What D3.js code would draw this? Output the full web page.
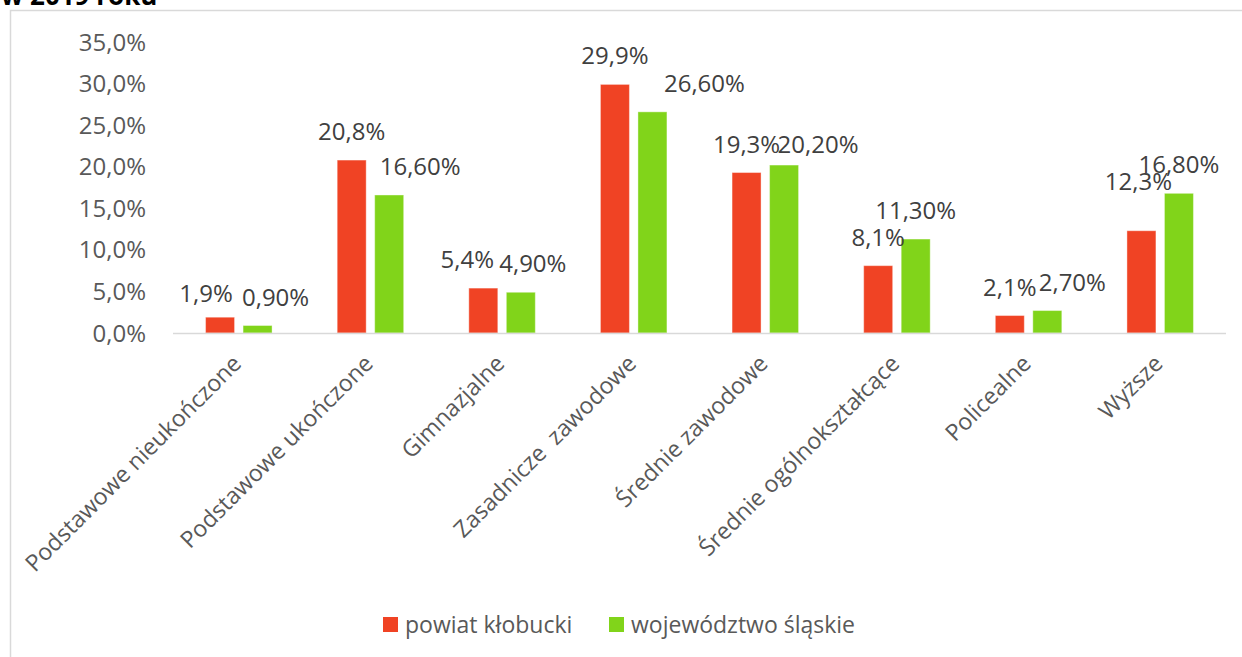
<!DOCTYPE html>
<html>
<head>
<meta charset="utf-8">
<script src="https://cdn.jsdelivr.net/npm/d3@7"></script>
<style>
  body { margin: 0; background: #fff; }
  svg { display: block; font-family: "Open Sans", sans-serif; }
</style>
</head>
<body>
<script>
// data
var categories = ["Podstawowe nieukończone", "Podstawowe ukończone", "Gimnazjalne", "Zasadnicze  zawodowe",
  "Średnie zawodowe", "Średnie ogólnokształcące", "Policealne", "Wyższe"];
var seriesNames = ["powiat kłobucki", "województwo śląskie"];
var powiat = [1.9, 20.8, 5.4, 29.9, 19.3, 8.1, 2.1, 12.3];
var wojewodztwo = [0.9, 16.6, 4.9, 26.6, 20.2, 11.3, 2.7, 16.8];
var yTicks = [0, 5, 10, 15, 20, 25, 30, 35];

// small hand nudges of the data labels (as in the original, moved by hand)
var powiatNudge = [[-14, 5], [0, 0], [-16, 0], [0, 0], [0, 0], [0, 0], [0, 0], [-3, -21]];
var wojNudge = [[18, 0], [31, 0], [12, 0], [52, 0], [34, 8], [0, 0], [25, 0], [0, 0]];

var width = 1242, height = 657;
var colors = ["#f04324", "#81d41a"];

var pl = d3.formatLocale({decimal: ",", thousands: " ", grouping: [3], currency: ["", " zł"]});
var fmt1 = pl.format(".1f"), fmt2 = pl.format(".2f");

var svg = d3.select("body").append("svg").attr("width", width).attr("height", height);

// cut-off title and chart frame
svg.append("text").attr("x", 1).attr("y", 5)
  .attr("font-size", 26).attr("font-weight", "bold").attr("fill", "#000")
  .text("w 2019 roku");
svg.append("rect").attr("x", 10.5).attr("y", 10.5).attr("width", 1300).attr("height", 700)
  .attr("fill", "none").attr("stroke", "#d9d9d9").attr("stroke-width", 1.5);

var x = d3.scaleBand().domain(categories).range([173, 1226]).padding(0);
var x1 = d3.scaleBand().domain(seriesNames)
  .range([x.bandwidth() / 2 - 33.25, x.bandwidth() / 2 + 33.25]).paddingInner(0.227);
var y = d3.scaleLinear().domain([0, 35]).range([333, 42]);

// y axis labels
svg.append("g").selectAll("text").data(yTicks).enter().append("text")
  .attr("x", 146).attr("y", function (d) { return y(d); })
  .attr("dy", "0.36em").attr("text-anchor", "end")
  .attr("font-size", 24).attr("fill", "#595959")
  .text(function (d) { return fmt1(d) + "%"; });

var rows = categories.map(function (c, i) {
  return [
    {cat: c, s: seriesNames[0], v: powiat[i], lab: fmt1(powiat[i]) + "%", n: powiatNudge[i], col: colors[0]},
    {cat: c, s: seriesNames[1], v: wojewodztwo[i], lab: fmt2(wojewodztwo[i]) + "%", n: wojNudge[i], col: colors[1]}
  ];
});
var flat = [].concat.apply([], rows);

svg.append("g").selectAll("rect").data(flat).enter().append("rect")
  .attr("x", function (d) { return x(d.cat) + x1(d.s); })
  .attr("y", function (d) { return y(d.v); })
  .attr("width", x1.bandwidth())
  .attr("height", function (d) { return y(0) - y(d.v); })
  .attr("fill", function (d) { return d.col; })
  .attr("stroke", "#fff").attr("stroke-opacity", 0.4).attr("stroke-width", 1);

// baseline
svg.append("line").attr("x1", 173).attr("x2", 1226).attr("y1", y(0) + 0.5).attr("y2", y(0) + 0.5)
  .attr("stroke", "#d9d9d9").attr("stroke-width", 1.5);

// data labels
svg.append("g").selectAll("text").data(flat).enter().append("text")
  .attr("x", function (d) { return x(d.cat) + x1(d.s) + x1.bandwidth() / 2 + d.n[0]; })
  .attr("y", function (d) { return y(d.v) - 20 + d.n[1]; })
  .attr("text-anchor", "middle").attr("font-size", 24).attr("fill", "#404040")
  .text(function (d) { return d.lab; });

// category labels, rotated
svg.append("g").selectAll("text").data(categories).enter().append("text")
  .attr("transform", function (d) {
    return "translate(" + (x(d) + x.bandwidth() / 2 + 4) + ",365) rotate(-45)";
  })
  .attr("text-anchor", "end").attr("font-size", 23.2).attr("fill", "#595959")
  .style("white-space", "pre")
  .text(function (d) { return d; });

// legend
var legX = [383, 609];
var leg = svg.append("g").selectAll("g").data(seriesNames).enter().append("g")
  .attr("transform", function (d, i) { return "translate(" + legX[i] + ",617)"; });
leg.append("rect").attr("width", 15).attr("height", 15).attr("fill", function (d, i) { return colors[i]; });
leg.append("text").attr("x", 22).attr("y", 16).attr("font-size", 23).attr("fill", "#595959")
  .text(function (d) { return d; });
</script>
</body>
</html>
